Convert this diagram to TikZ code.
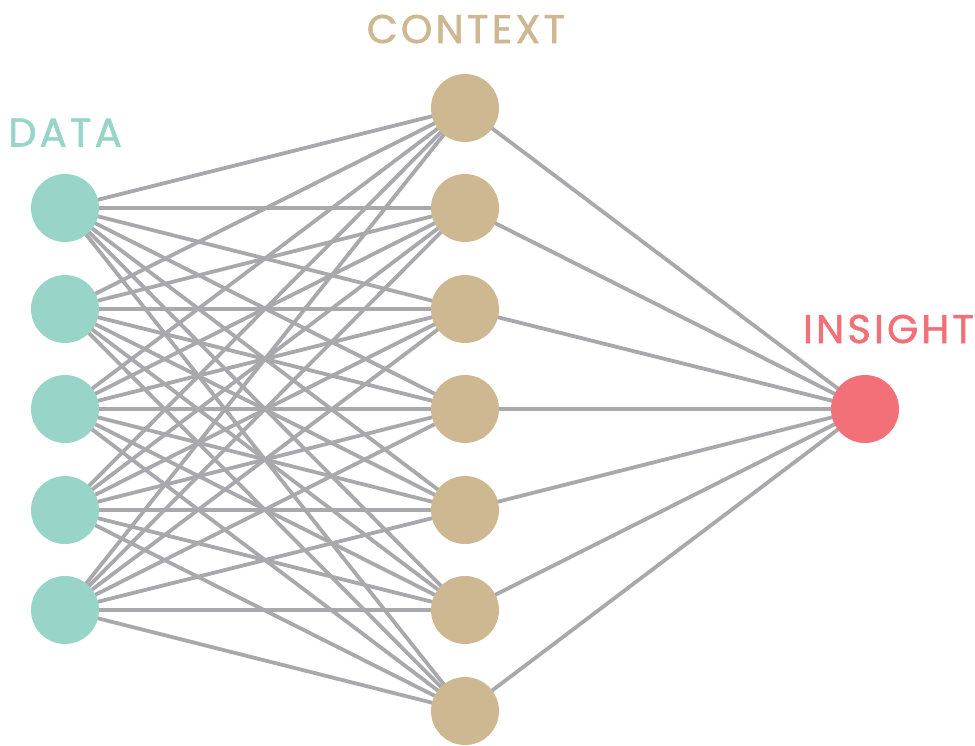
\documentclass[tikz,border=0pt]{standalone}
\usepackage{fontspec}
\setmainfont{Poppins}[LetterSpace=8,FakeBold=1.5]
\definecolor{datac}{HTML}{98D5C8}
\definecolor{ctxc}{HTML}{CDB891}
\definecolor{insc}{HTML}{F27179}
\definecolor{linec}{HTML}{A9A9AD}
\begin{document}
\begin{tikzpicture}[x=1pt,y=-1pt,
  neuron/.style={circle,minimum size=68pt,inner sep=0pt,draw=none},
  datanode/.style={neuron,fill=datac},
  ctxnode/.style={neuron,fill=ctxc},
  insnode/.style={neuron,fill=insc},
  link/.style={draw=linec,line width=3.8pt},
  lbl/.style={anchor=base,font=\fontsize{40}{44}\selectfont,inner sep=0pt}]
\useasboundingbox (0,0) rectangle (975,745);
\foreach \i/\y in {1/208,2/309,3/409,4/510,5/610}
  \coordinate (d\i) at (65,\y);
\foreach \j/\y in {1/108,2/208,3/309,4/409,5/510,6/610,7/711}
  \coordinate (c\j) at (465,\y);
\coordinate (o) at (865,409);
\foreach \i in {1,...,5}
  \foreach \j in {1,...,7}
    \draw[link] (d\i) -- (c\j);
\foreach \j in {1,...,7}
  \draw[link] (c\j) -- (o);
\foreach \i in {1,...,5}
  \node[datanode] (dn\i) at (d\i) {};
\foreach \j in {1,...,7}
  \node[ctxnode] (cn\j) at (c\j) {};
\node[insnode] (on) at (o) {};
\node[lbl,text=datac] (tdata) at (65,146.5) {DATA};
\node[lbl,text=ctxc] (tctx) at (466,43) {CONTEXT};
\node[lbl,text=insc] (tins) at (888.5,343) {INSIGHT};
\end{tikzpicture}
\end{document}
